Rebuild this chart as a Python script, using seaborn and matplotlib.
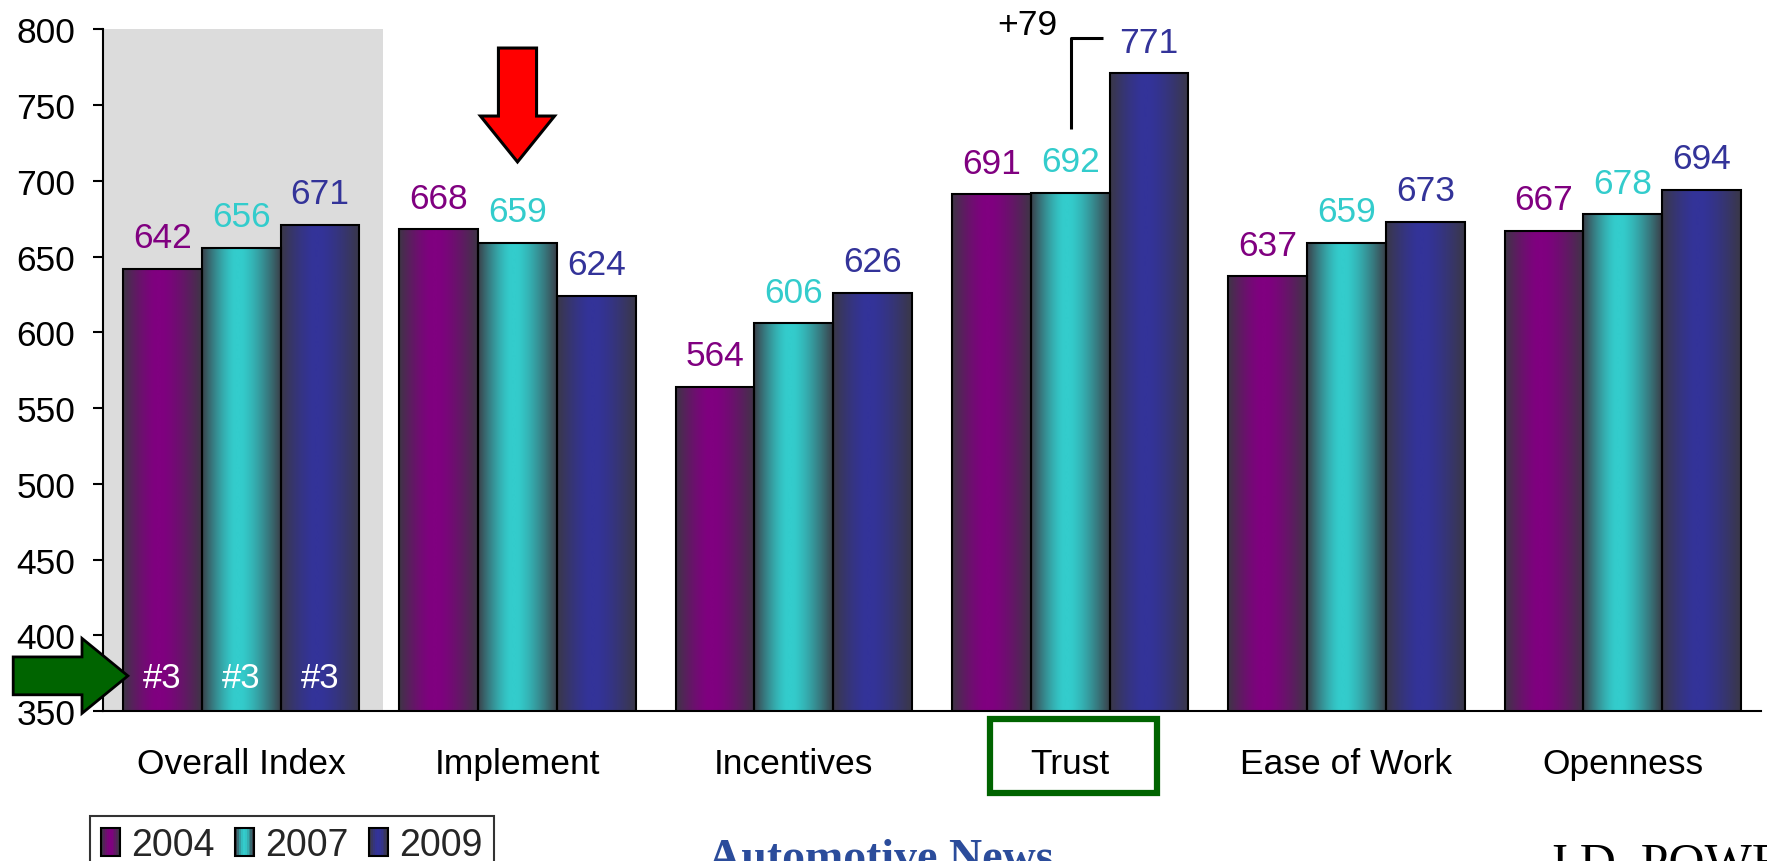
import numpy as np
import pandas as pd
import matplotlib
matplotlib.use("Agg")
import matplotlib.pyplot as plt
import seaborn as sns
from matplotlib.patches import Rectangle, Polygon
from matplotlib.legend_handler import HandlerBase

# ---- data ----
categories = ["Overall Index", "Implement", "Incentives", "Trust", "Ease of Work", "Openness"]
years = ["2004", "2007", "2009"]
scores_2004 = [642, 668, 564, 691, 637, 667]
scores_2007 = [656, 659, 606, 692, 659, 678]
scores_2009 = [671, 624, 626, 771, 673, 694]
rank_labels = ["#3", "#3", "#3"]
trust_gain_label = "+79"

series_colors = ["#800080", "#33CCCC", "#333399"]
dark = np.array([0.23, 0.22, 0.26])

df = pd.DataFrame({
    "category": categories * 3,
    "score": scores_2004 + scores_2007 + scores_2009,
    "year": [y for y in years for _ in categories],
})

sns.set_theme(style="white")
plt.rcParams["font.family"] = ["Liberation Sans", "DejaVu Sans"]

W, H = 1767, 862
fig = plt.figure(figsize=(W / 100, H / 100), dpi=100)
ax = fig.add_axes([103 / W, 150 / H, (1761 - 103) / W, (712 - 30.4) / H])

sns.barplot(data=df, x="category", y="score", hue="year", order=categories,
            hue_order=years, palette=series_colors, width=0.856, gap=0,
            edgecolor="black", linewidth=1.5, legend=False, ax=ax, zorder=2)

YMIN, YMAX = 350, 800


def shade(col, n=200):
    c = np.array(matplotlib.colors.to_rgb(col))
    x = np.linspace(0, 1, n)
    c0 = 0.45
    d = np.where(x < c0, (c0 - x) / c0, (x - c0) / (1 - c0))
    f = np.clip(1 - np.clip(d - 0.08, 0, None) ** 1.4 / 0.92 ** 1.4, 0, 1)
    f = 0.05 + 0.95 * f
    return dark[None, :] + (c - dark)[None, :] * f[:, None]


# gradient fill for every bar
for cont, col in zip(ax.containers, series_colors):
    grad = shade(col)[None, :, :]
    for bar in cont:
        x0 = bar.get_x()
        w = bar.get_width()
        h = bar.get_height()
        ax.imshow(grad, extent=[x0, x0 + w, YMIN, h], aspect="auto",
                  interpolation="bilinear", zorder=1.5)
        bar.set_facecolor("none")
        bar.set_zorder(2)

# value labels
for cont, col in zip(ax.containers, series_colors):
    for bar in cont:
        h = bar.get_height()
        ax.annotate(f"{h:.0f}", (bar.get_x() + bar.get_width() / 2, h),
                    xytext=(0, 10.5), textcoords="offset points", ha="center",
                    va="bottom", fontsize=25.5, color=col, zorder=5)

# rank labels inside the Overall Index bars
for cont, lab in zip(ax.containers, rank_labels):
    bar = cont[0]
    ax.text(bar.get_x() + bar.get_width() / 2, 372, lab, ha="center",
            va="center", fontsize=25, color="white", zorder=5)

# highlighted background for the overall index
ax.axvspan(-0.5, 0.515, color="#dcdcdc", zorder=0, lw=0)

ax.set_xlim(-0.5, 5.5)
ax.set_ylim(YMIN, YMAX)
ax.set_yticks(range(350, 801, 50))
ax.set_xlabel("")
ax.set_ylabel("")

for side in ["top", "right"]:
    ax.spines[side].set_visible(False)
for side in ["left", "bottom"]:
    ax.spines[side].set_color("black")
    ax.spines[side].set_linewidth(1.5)

ax.set_xticks(np.arange(-0.5, 5.6, 1), minor=True)
ax.tick_params(axis="x", which="major", length=0, pad=26, labelsize=25.5,
               colors="black")
ax.tick_params(axis="x", which="minor", length=7, width=1.5, direction="out",
               color="black")
ax.tick_params(axis="y", which="major", length=7, width=1.5, direction="out",
               pad=13, labelsize=25.5, colors="black", left=True)

# +79 bracket over Trust
ax.plot([3.004, 3.004, 3.12], [734.5, 794.3, 794.3], color="black", lw=2.2,
        clip_on=False, zorder=6, solid_capstyle="butt")
ax.text(2.845, 803, trust_gain_label, ha="center", va="center", fontsize=25.5,
        color="black", clip_on=False)

# red down arrow over Implement
red_pts = [(0.931, 787.7), (1.069, 787.7), (1.069, 742.8), (1.134, 742.8),
           (1.0, 712.5), (0.866, 742.8), (0.931, 742.8)]
ax.add_patch(Polygon(red_pts, closed=True, fc="#FF0000", ec="black", lw=2.2,
                     clip_on=False, zorder=7))

# green right arrow pointing at the overall rank
gy = 373.2
green_pts = [(-0.825, gy + 12.5), (-0.576, gy + 12.5), (-0.576, gy + 24.75),
             (-0.41, gy), (-0.576, gy - 24.75), (-0.576, gy - 12.5),
             (-0.825, gy - 12.5)]
ax.add_patch(Polygon(green_pts, closed=True, fc="#006400", ec="black", lw=2.0,
                     clip_on=False, zorder=7))

# box around the Trust label
fig.add_artist(Rectangle((990 / W, 1 - 794 / H), 167 / W, 74 / H,
                         transform=fig.transFigure, fill=False,
                         ec="#006400", lw=4.5))


class GradientPatchHandler(HandlerBase):
    def create_artists(self, legend, orig_handle, xdescent, ydescent, width,
                       height, fontsize, trans):
        cols = shade(orig_handle.get_facecolor(), n=10)
        arts = []
        sw = width / len(cols)
        for i, c in enumerate(cols):
            arts.append(Rectangle((-xdescent + i * sw, -ydescent), sw * 1.05,
                                  height, fc=c, ec="none", transform=trans))
        arts.append(Rectangle((-xdescent, -ydescent), width, height, fill=False,
                              ec="black", lw=1.5, transform=trans))
        return arts


handles = [Rectangle((0, 0), 1, 1, fc=c) for c in series_colors]
leg = fig.legend(handles, years, loc="upper left",
                 bbox_to_anchor=(90 / W, 1 - 817 / H), ncol=3, fontsize=27,
                 frameon=True, fancybox=False, edgecolor="black",
                 handlelength=0.5, handleheight=0.75, handletextpad=0.3,
                 columnspacing=0.55, borderpad=0.3, borderaxespad=0,
                 handler_map={Rectangle: GradientPatchHandler()})
leg.get_frame().set_linewidth(1.5)

# source logos along the bottom edge
fig.text(708 / W, -9 / H, "Automotive News", fontsize=33, color="#2B4C9B",
         fontweight="bold", family="Liberation Serif", ha="left",
         va="baseline")
fig.text(1548 / W, -16 / H, "J.D. POWER", fontsize=36, color="black",
         family="Liberation Serif", ha="left", va="baseline")

fig.savefig("out.png", dpi=100)
